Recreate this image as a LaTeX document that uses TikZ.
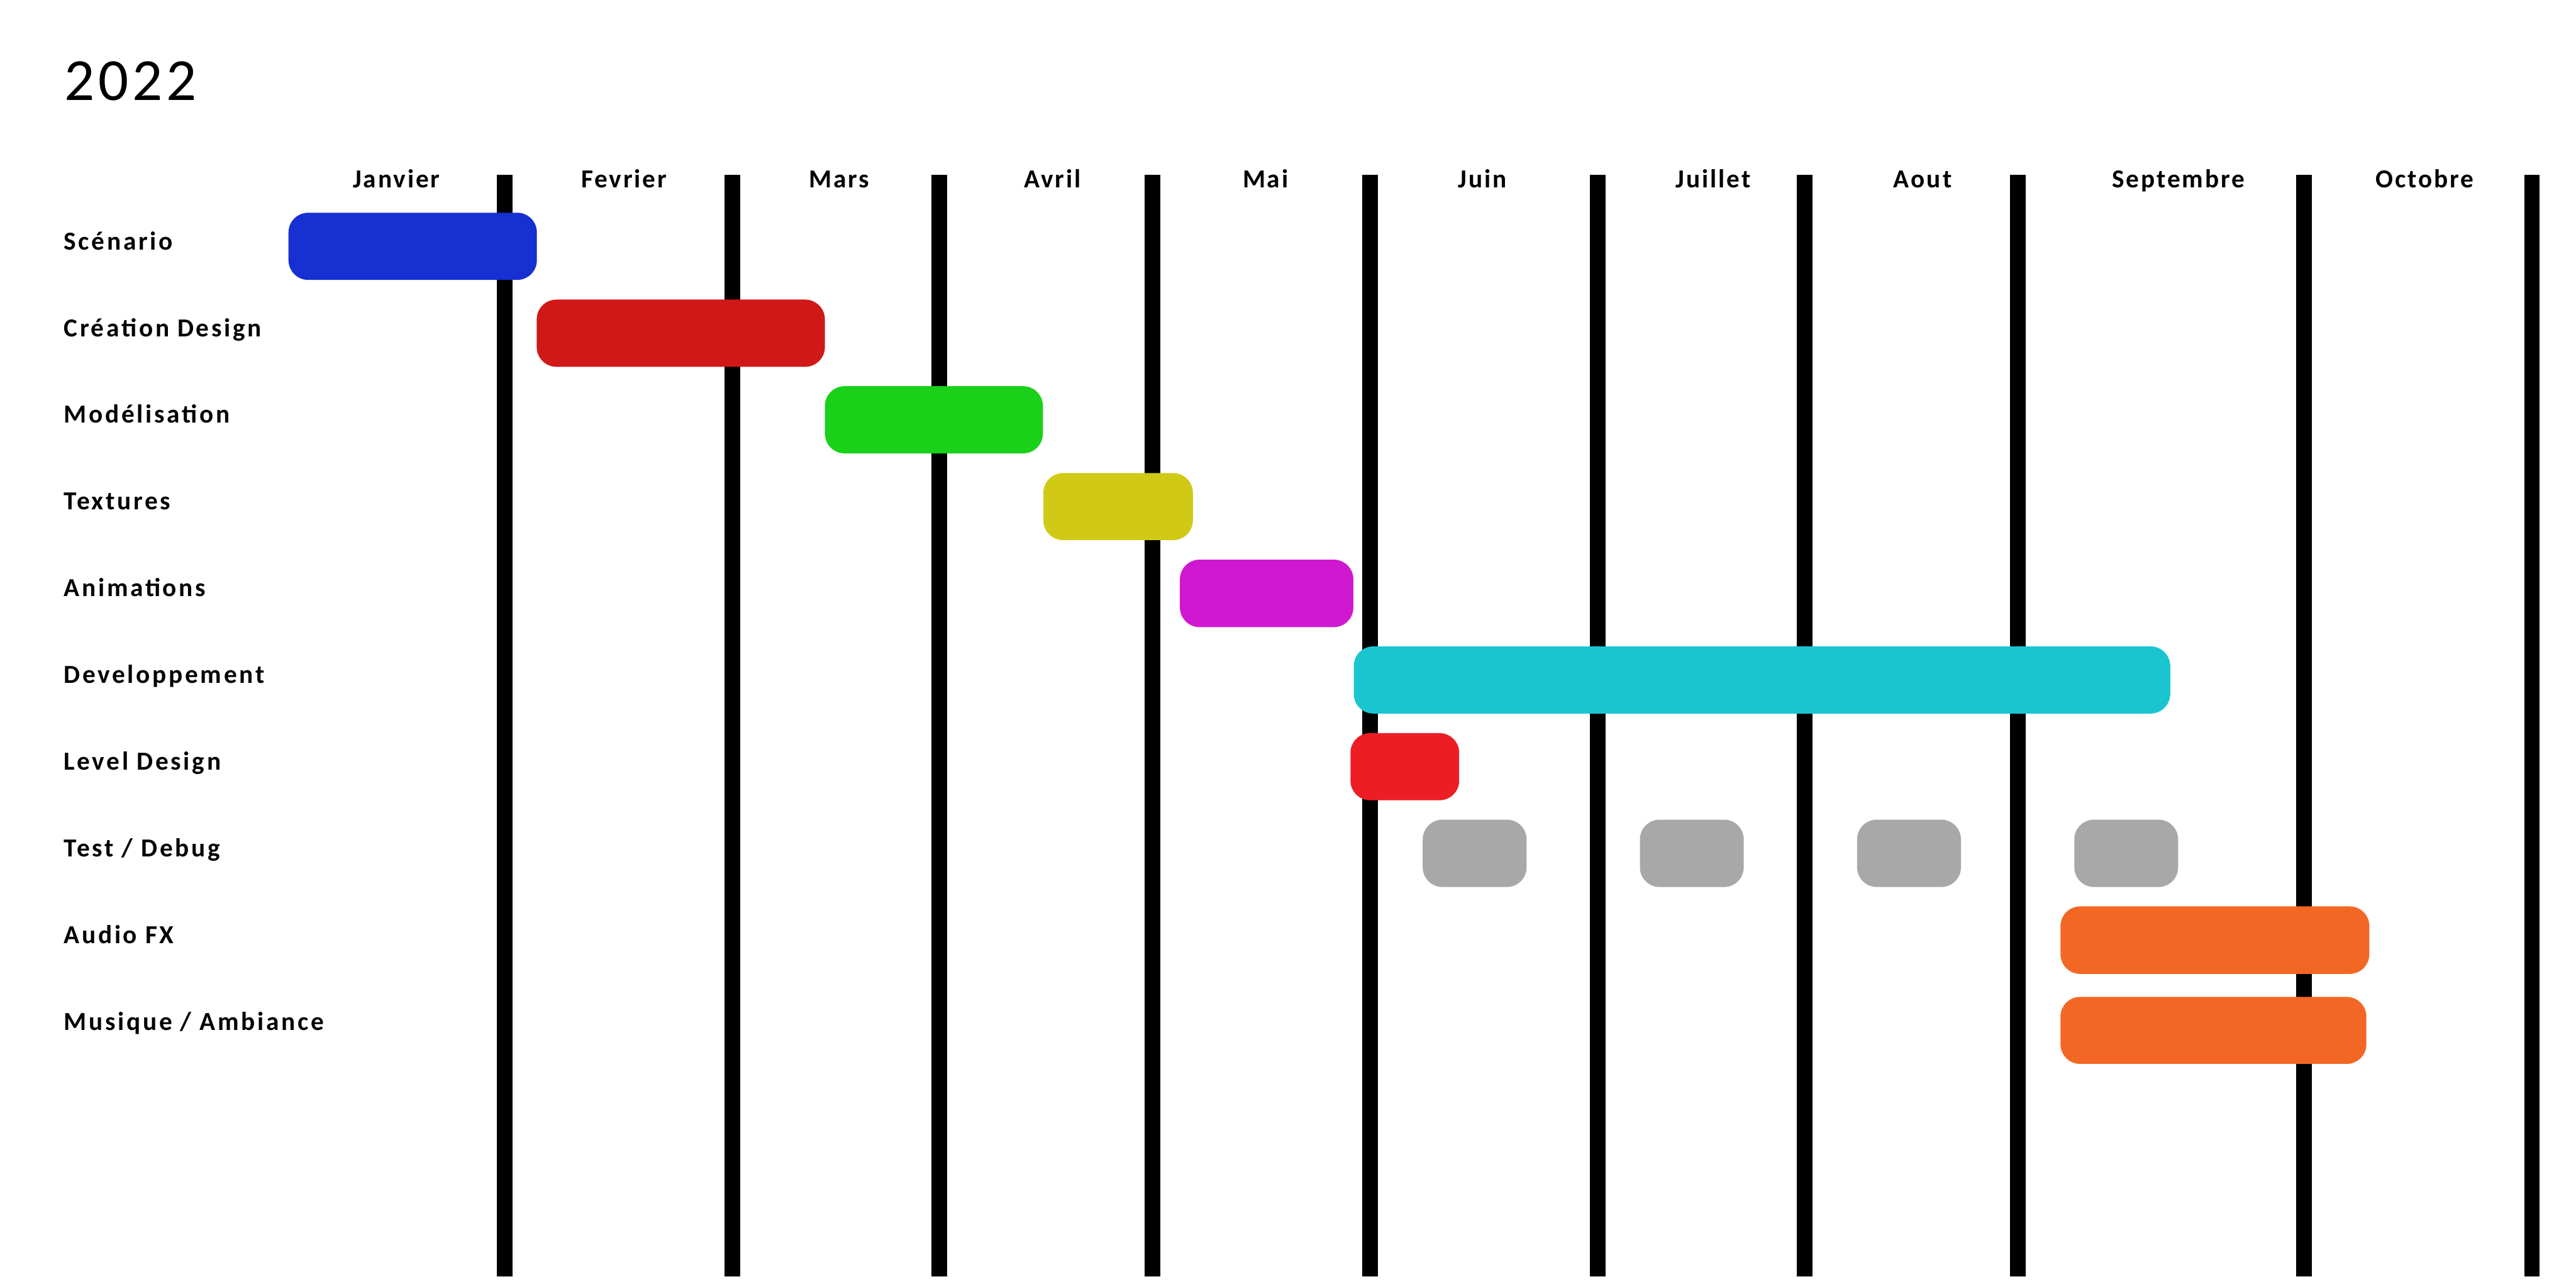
\documentclass[tikz,border=0pt]{standalone}
\usepackage{fontspec}
\setmainfont{Carlito}
\newfontfamily\taskfamily[LetterSpace=9]{Carlito}
\newfontfamily\monthfamily[LetterSpace=7]{Carlito}
\newfontfamily\yearfamily[LetterSpace=6]{Carlito}
\usepackage{tikz}
\definecolor{ScenBlue}{RGB}{23,48,209}
\definecolor{DesignRed}{RGB}{208,24,24}
\definecolor{ModelGreen}{RGB}{26,208,24}
\definecolor{TexYellow}{RGB}{208,202,22}
\definecolor{AnimMagenta}{RGB}{208,24,208}
\definecolor{DevCyan}{RGB}{25,198,208}
\definecolor{LevelRed}{RGB}{237,29,37}
\definecolor{TestGray}{RGB}{168,168,168}
\definecolor{AudioOrange}{RGB}{243,103,37}

\begin{document}
\begin{tikzpicture}[
 x=0.02cm, y=-0.02cm,
 task/.style={anchor=base west, inner sep=0, font=\taskfamily\bfseries\fontsize{9}{11}\selectfont},
 month/.style={anchor=base, inner sep=0, font=\monthfamily\bfseries\fontsize{9}{11}\selectfont},
 bar/.style={rounded corners=0.24cm},
 gridline/.style={line width=0.19cm}
]
\useasboundingbox (0,0) rectangle (1568,781.4);

\node[anchor=base west, inner sep=0, font=\yearfamily\fontsize{20.7}{24}\selectfont] (year) at (39,61.2) {2022};

\foreach \x in {307.3,445.8,571.8,701.6,833.9,972.4,1098.6,1228.2,1402.5,1541.2}
  \draw[gridline] (\x,106.5) -- (\x,777);

\node[month] (jan) at (241.3,114.3)  {Janvier};
\node[month] (feb) at (379.8,114.3)  {Fevrier};
\node[month] (mar) at (510.7,114.3)  {Mars};
\node[month] (apr) at (640.7,114.3)  {Avril};
\node[month] (may) at (770.3,114.3)  {Mai};
\node[month] (jun) at (902.3,114.3)  {Juin};
\node[month] (jul) at (1042.8,114.3) {Juillet};
\node[month] (aug) at (1170.3,114.3) {Aout};
\node[month] (sep) at (1326,114.3)   {Septembre};
\node[month] (oct) at (1475.8,114.3) {Octobre};

\node[task] (scenario)  at (38.5,152)   {Scénario};
\node[task] (creation)  at (38.5,204.8) {Création Design};
\node[task] (modeling)  at (38.5,257.6) {Modélisation};
\node[task] (textures)  at (38.5,310.4) {Textures};
\node[task] (anims)     at (38.5,363.2) {Animations};
\node[task] (dev)       at (38.5,416)   {Developpement};
\node[task] (level)     at (38.5,468.8) {Level Design};
\node[task] (test)      at (38.5,521.6) {Test / Debug};
\node[task] (audio)     at (38.5,574.4) {Audio FX};
\node[task] (music)     at (38.5,627.2) {Musique / Ambiance};

\fill[bar, ScenBlue]    (175.6,129.5) rectangle (326.8,170.4);
\fill[bar, DesignRed]   (326.7,182.4) rectangle (502.1,223.3);
\fill[bar, ModelGreen]  (502.1,235.1) rectangle (634.8,276);
\fill[bar, TexYellow]   (635.1,288)   rectangle (726.1,328.8);
\fill[bar, AnimMagenta] (718.2,340.7) rectangle (823.8,381.8);
\fill[bar, DevCyan]     (824,393.5)   rectangle (1321,434.4);
\fill[bar, LevelRed]    (822,446.3)   rectangle (888.2,487.2);
\foreach \x in {866,998.2,1130.4,1262.6}
  \fill[bar, TestGray] (\x,499) rectangle ++(63.2,41);
\fill[bar, AudioOrange] (1254.2,551.8) rectangle (1442.2,592.9);
\fill[bar, AudioOrange] (1254.2,606.9) rectangle (1440.4,647.7);
\end{tikzpicture}
\end{document}
